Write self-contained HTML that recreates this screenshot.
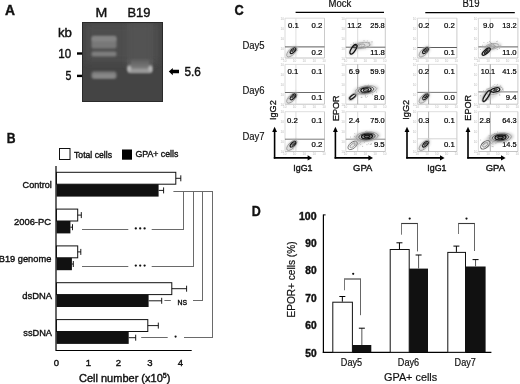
<!DOCTYPE html>
<html><head><meta charset="utf-8"><style>
html,body{margin:0;padding:0;background:#fff;width:520px;height:384px;overflow:hidden}
svg{display:block;will-change:transform;filter:blur(0.35px)}
text{font-family:"Liberation Sans", sans-serif;stroke:#111;stroke-width:0.4px}
text.t{stroke:none}
</style></head><body>
<svg width="520" height="384" viewBox="0 0 520 384">
<defs>
<clipPath id="gelclip"><rect x="82" y="22" width="81" height="80"/></clipPath>
<filter id="b1" x="-50%" y="-50%" width="200%" height="200%"><feGaussianBlur stdDeviation="0.9"/></filter>
<filter id="b2" x="-50%" y="-50%" width="200%" height="200%"><feGaussianBlur stdDeviation="1.6"/></filter>
<filter id="b3" x="-50%" y="-50%" width="200%" height="200%"><feGaussianBlur stdDeviation="3"/></filter>
</defs>
<rect width="520" height="384" fill="#fff"/>
<text x="5" y="15" font-size="14" text-anchor="start" font-weight="bold" textLength="10" lengthAdjust="spacingAndGlyphs" fill="#111" >A</text>
<text x="95.6" y="17" font-size="12.5" text-anchor="start" textLength="11.8" lengthAdjust="spacingAndGlyphs" fill="#111" >M</text>
<text x="127.5" y="17" font-size="12.5" text-anchor="start" textLength="23" lengthAdjust="spacingAndGlyphs" fill="#111" >B19</text>
<text x="58" y="37" font-size="12" text-anchor="start" textLength="14" lengthAdjust="spacingAndGlyphs" fill="#111" >kb</text>
<text x="58.2" y="58.2" font-size="12.5" text-anchor="start" textLength="12.9" lengthAdjust="spacingAndGlyphs" fill="#111" >10</text>
<text x="65.6" y="80.4" font-size="12.5" text-anchor="start" textLength="5.9" lengthAdjust="spacingAndGlyphs" fill="#111" >5</text>
<rect x="77" y="52.3" width="5.3" height="2.4" fill="#000" stroke="none" stroke-width="1" />
<rect x="77" y="74.7" width="5.3" height="2.4" fill="#000" stroke="none" stroke-width="1" />
<g clip-path="url(#gelclip)">
<rect x="82" y="22" width="81" height="80" fill="#444" stroke="none" stroke-width="1" />
<rect x="86" y="24" width="73" height="38" fill="#4e4e4e" filter="url(#b3)"/>
<rect x="91.5" y="36" width="25" height="12.5" rx="2" fill="#787878" filter="url(#b1)"/>
<rect x="92" y="36.5" width="24" height="5" rx="2" fill="#848484" filter="url(#b1)"/>
<rect x="91.5" y="51.6" width="25" height="5" rx="2" fill="#7e7e7e" filter="url(#b1)"/>
<rect x="91.5" y="71.5" width="25" height="7.3" rx="2.5" fill="#7c7c7c" filter="url(#b1)"/>
<rect x="93" y="74.5" width="22" height="3.2" rx="1.5" fill="#8a8a8a" filter="url(#b1)"/>
<rect x="128" y="22" width="24" height="44" fill="#535353" filter="url(#b3)"/>
<rect x="128.5" y="60" width="23" height="7" fill="#666" filter="url(#b2)"/>
<rect x="128.5" y="24" width="2" height="44" fill="#525252" filter="url(#b1)"/>
<rect x="149.5" y="24" width="2" height="44" fill="#525252" filter="url(#b1)"/>
<rect x="127.5" y="64.5" width="25" height="8.5" rx="3" fill="#767676" filter="url(#b1)"/>
<rect x="128" y="68.6" width="24" height="4.2" rx="2" fill="#9a9a9a" filter="url(#b1)"/>
<ellipse cx="129.3" cy="68.6" rx="1.9" ry="2.8" fill="#b8b8b8" filter="url(#b1)"/>
<ellipse cx="150.3" cy="68.6" rx="1.9" ry="2.8" fill="#b8b8b8" filter="url(#b1)"/>
</g>
<rect x="82.5" y="22.5" width="80" height="79" fill="none" stroke="#2a2a2a" stroke-width="1" />
<path d="M168.8 71.5 L172.8 67.9 L172.8 69.7 L179 69.7 L179 73.3 L172.8 73.3 L172.8 75.2 Z" fill="#000"/>
<text x="184.5" y="76" font-size="12" text-anchor="start" textLength="16.4" lengthAdjust="spacingAndGlyphs" fill="#111" >5.6</text>
<text x="6.8" y="143.4" font-size="14.5" text-anchor="start" font-weight="bold" textLength="8.8" lengthAdjust="spacingAndGlyphs" fill="#111" >B</text>
<rect x="59.5" y="148.5" width="10.5" height="11" fill="#fff" stroke="#111" stroke-width="1" />
<text x="74" y="157.5" font-size="9.5" text-anchor="start" textLength="38" lengthAdjust="spacingAndGlyphs" fill="#111" >Total cells</text>
<rect x="122" y="149.5" width="10" height="10.2" fill="#000" stroke="none" stroke-width="1" />
<text x="135.4" y="157.3" font-size="9.5" text-anchor="start" textLength="43" lengthAdjust="spacingAndGlyphs" fill="#111" >GPA+ cells</text>
<line x1="56" y1="166" x2="56" y2="351" stroke="#000" stroke-width="1.2" />
<line x1="56" y1="350.5" x2="191.7" y2="350.5" stroke="#000" stroke-width="1.2" />
<text x="56.3" y="365.5" font-size="9.5" text-anchor="middle" fill="#111" >0</text>
<text x="88.5" y="365.5" font-size="9.5" text-anchor="middle" fill="#111" >1</text>
<text x="118.5" y="365.5" font-size="9.5" text-anchor="middle" fill="#111" >2</text>
<text x="150" y="365.5" font-size="9.5" text-anchor="middle" fill="#111" >3</text>
<text x="180.4" y="365.5" font-size="9.5" text-anchor="middle" fill="#111" >4</text>
<text x="79" y="381.5" font-size="11" text-anchor="start" fill="#111" >Cell number (x10<tspan font-size="7" dy="-4">5</tspan><tspan dy="4">)</tspan></text>
<rect x="56.5" y="172.3" width="119.30000000000001" height="11.9" fill="#fff" stroke="#111" stroke-width="1" />
<rect x="56.5" y="184.20000000000002" width="102.1" height="12.4" fill="#111" stroke="none" stroke-width="1" />
<line x1="175.8" y1="178.3" x2="180.8" y2="178.3" stroke="#000" stroke-width="0.9" />
<line x1="180.8" y1="175.3" x2="180.8" y2="181.3" stroke="#000" stroke-width="0.9" />
<line x1="158.6" y1="190.4" x2="163.6" y2="190.4" stroke="#000" stroke-width="0.9" />
<line x1="163.6" y1="187.4" x2="163.6" y2="193.4" stroke="#000" stroke-width="0.9" />
<text x="22.6" y="188.20000000000002" font-size="9.8" text-anchor="start" textLength="29.2" lengthAdjust="spacingAndGlyphs" fill="#111" >Control</text>
<rect x="56.5" y="209.1" width="21.200000000000003" height="11.9" fill="#fff" stroke="#111" stroke-width="1" />
<rect x="56.5" y="221.0" width="13.900000000000006" height="12.4" fill="#111" stroke="none" stroke-width="1" />
<line x1="77.7" y1="215.1" x2="81.3" y2="215.1" stroke="#000" stroke-width="0.9" />
<line x1="81.3" y1="212.1" x2="81.3" y2="218.1" stroke="#000" stroke-width="0.9" />
<line x1="70.4" y1="227.2" x2="72.5" y2="227.2" stroke="#000" stroke-width="0.9" />
<line x1="72.5" y1="224.2" x2="72.5" y2="230.2" stroke="#000" stroke-width="0.9" />
<text x="14" y="225.0" font-size="9.8" text-anchor="start" textLength="37" lengthAdjust="spacingAndGlyphs" fill="#111" >2006-PC</text>
<rect x="56.5" y="245.9" width="21.200000000000003" height="11.9" fill="#fff" stroke="#111" stroke-width="1" />
<rect x="56.5" y="257.8" width="15.400000000000006" height="12.4" fill="#111" stroke="none" stroke-width="1" />
<line x1="77.7" y1="251.9" x2="80.8" y2="251.9" stroke="#000" stroke-width="0.9" />
<line x1="80.8" y1="248.9" x2="80.8" y2="254.9" stroke="#000" stroke-width="0.9" />
<line x1="71.9" y1="264.0" x2="73.3" y2="264.0" stroke="#000" stroke-width="0.9" />
<line x1="73.3" y1="261.0" x2="73.3" y2="267.0" stroke="#000" stroke-width="0.9" />
<text x="-1.3" y="261.8" font-size="9.8" text-anchor="start" textLength="52.6" lengthAdjust="spacingAndGlyphs" fill="#111" >B19 genome</text>
<rect x="56.5" y="282.7" width="115.30000000000001" height="11.9" fill="#fff" stroke="#111" stroke-width="1" />
<rect x="56.5" y="294.59999999999997" width="92.1" height="12.4" fill="#111" stroke="none" stroke-width="1" />
<line x1="171.8" y1="288.7" x2="186.6" y2="288.7" stroke="#000" stroke-width="0.9" />
<line x1="186.6" y1="285.7" x2="186.6" y2="291.7" stroke="#000" stroke-width="0.9" />
<line x1="148.6" y1="300.8" x2="161.7" y2="300.8" stroke="#000" stroke-width="0.9" />
<line x1="161.7" y1="297.8" x2="161.7" y2="303.8" stroke="#000" stroke-width="0.9" />
<text x="22.3" y="298.59999999999997" font-size="9.8" text-anchor="start" textLength="29.7" lengthAdjust="spacingAndGlyphs" fill="#111" >dsDNA</text>
<rect x="56.5" y="319.6" width="91.30000000000001" height="11.9" fill="#fff" stroke="#111" stroke-width="1" />
<rect x="56.5" y="331.5" width="72.19999999999999" height="12.4" fill="#111" stroke="none" stroke-width="1" />
<line x1="147.8" y1="325.6" x2="158.3" y2="325.6" stroke="#000" stroke-width="0.9" />
<line x1="158.3" y1="322.6" x2="158.3" y2="328.6" stroke="#000" stroke-width="0.9" />
<line x1="128.7" y1="337.70000000000005" x2="135.7" y2="337.70000000000005" stroke="#000" stroke-width="0.9" />
<line x1="135.7" y1="334.70000000000005" x2="135.7" y2="340.70000000000005" stroke="#000" stroke-width="0.9" />
<text x="23.3" y="335.5" font-size="9.8" text-anchor="start" textLength="28.7" lengthAdjust="spacingAndGlyphs" fill="#111" >ssDNA</text>
<line x1="173.4" y1="191.5" x2="213" y2="191.5" stroke="#6a6a6a" stroke-width="1" />
<line x1="183.5" y1="191.5" x2="183.5" y2="230" stroke="#6a6a6a" stroke-width="1" />
<line x1="193.5" y1="191.5" x2="193.5" y2="267" stroke="#6a6a6a" stroke-width="1" />
<line x1="202.5" y1="191.5" x2="202.5" y2="301" stroke="#6a6a6a" stroke-width="1" />
<line x1="212.5" y1="191.5" x2="212.5" y2="338" stroke="#6a6a6a" stroke-width="1" />
<line x1="82" y1="229.5" x2="128.3" y2="229.5" stroke="#6a6a6a" stroke-width="1" />
<line x1="151.7" y1="229.5" x2="184" y2="229.5" stroke="#6a6a6a" stroke-width="1" />
<circle cx="135.8" cy="228.4" r="1.15" fill="#111"/>
<circle cx="140.2" cy="228.4" r="1.15" fill="#111"/>
<circle cx="144.6" cy="228.4" r="1.15" fill="#111"/>
<line x1="82" y1="266.5" x2="128.3" y2="266.5" stroke="#6a6a6a" stroke-width="1" />
<line x1="151.7" y1="266.5" x2="194" y2="266.5" stroke="#6a6a6a" stroke-width="1" />
<circle cx="135.8" cy="265.6" r="1.15" fill="#111"/>
<circle cx="140.2" cy="265.6" r="1.15" fill="#111"/>
<circle cx="144.6" cy="265.6" r="1.15" fill="#111"/>
<line x1="164.4" y1="300.5" x2="170.8" y2="300.5" stroke="#6a6a6a" stroke-width="1" />
<line x1="193" y1="300.5" x2="203" y2="300.5" stroke="#6a6a6a" stroke-width="1" />
<text x="177.5" y="305.2" font-size="7.5" text-anchor="start" textLength="9.5" lengthAdjust="spacingAndGlyphs" fill="#111" >NS</text>
<line x1="141.2" y1="337.5" x2="167.7" y2="337.5" stroke="#6a6a6a" stroke-width="1" />
<line x1="184" y1="337.5" x2="213" y2="337.5" stroke="#6a6a6a" stroke-width="1" />
<circle cx="175.6" cy="336.6" r="1.1" fill="#111"/>
<text x="234.5" y="14.8" font-size="14" text-anchor="start" font-weight="bold" textLength="9.2" lengthAdjust="spacingAndGlyphs" fill="#111" >C</text>
<text x="328.6" y="6.9" font-size="10" text-anchor="start" textLength="22.8" lengthAdjust="spacingAndGlyphs" fill="#111" style="stroke-width:0.2px">Mock</text>
<line x1="295.6" y1="12.4" x2="384" y2="12.4" stroke="#000" stroke-width="1.25" />
<text x="462.5" y="6.9" font-size="10" text-anchor="start" textLength="17" lengthAdjust="spacingAndGlyphs" fill="#111" style="stroke-width:0.2px">B19</text>
<line x1="425.3" y1="12.5" x2="514.8" y2="12.5" stroke="#000" stroke-width="1.25" />
<text x="242.4" y="48.75" font-size="10" text-anchor="start" textLength="22.2" lengthAdjust="spacingAndGlyphs" fill="#111" style="stroke-width:0.15px">Day5</text>
<text x="242.4" y="94.0" font-size="10" text-anchor="start" textLength="22.2" lengthAdjust="spacingAndGlyphs" fill="#111" style="stroke-width:0.15px">Day6</text>
<text x="242.4" y="139.7" font-size="10" text-anchor="start" textLength="22.2" lengthAdjust="spacingAndGlyphs" fill="#111" style="stroke-width:0.15px">Day7</text>
<text x="280.4" y="59.5" font-size="3.2" fill="#bbb" class="t">10</text>
<text x="283.0" y="61.8" font-size="3.2" fill="#bbb" class="t">10</text>
<text x="280.4" y="49.5" font-size="3.2" fill="#bbb" class="t">10</text>
<text x="292.8" y="61.8" font-size="3.2" fill="#bbb" class="t">10</text>
<text x="280.4" y="39.5" font-size="3.2" fill="#bbb" class="t">10</text>
<text x="302.6" y="61.8" font-size="3.2" fill="#bbb" class="t">10</text>
<text x="280.4" y="29.5" font-size="3.2" fill="#bbb" class="t">10</text>
<text x="312.4" y="61.8" font-size="3.2" fill="#bbb" class="t">10</text>
<text x="280.4" y="19.5" font-size="3.2" fill="#bbb" class="t">10</text>
<text x="322.2" y="61.8" font-size="3.2" fill="#bbb" class="t">10</text>
<line x1="285.0" y1="18.2" x2="324.5" y2="18.2" stroke="#d4d4d4" stroke-width="0.8" />
<line x1="285.0" y1="18.2" x2="285.0" y2="58.0" stroke="#d0d0d0" stroke-width="0.8" />
<line x1="324.5" y1="18.2" x2="324.5" y2="58.0" stroke="#bdbdbd" stroke-width="0.8" />
<line x1="285.0" y1="58.0" x2="324.5" y2="58.0" stroke="#b5b5b5" stroke-width="0.8" />
<line x1="295.9" y1="18.2" x2="295.9" y2="58.0" stroke="#d8d8d8" stroke-width="0.8" />
<line x1="285.0" y1="46.9" x2="324.5" y2="46.9" stroke="#4a4a4a" stroke-width="0.9" />
<text x="288" y="28" font-size="8" text-anchor="start" textLength="10.8" lengthAdjust="spacingAndGlyphs" fill="#000" style="stroke-width:0.22px;stroke:#000">0.1</text>
<text x="322.4" y="28" font-size="8" text-anchor="end" textLength="10.8" lengthAdjust="spacingAndGlyphs" fill="#000" style="stroke-width:0.22px;stroke:#000">0.2</text>
<text x="322.4" y="54.6" font-size="8" text-anchor="end" textLength="10.8" lengthAdjust="spacingAndGlyphs" fill="#000" style="stroke-width:0.22px;stroke:#000">0.2</text>
<ellipse cx="291.8" cy="51.8" rx="8" ry="4" transform="rotate(-45 291.8 51.8)" fill="#c4c4c4" stroke="none" stroke-width="1" opacity="0.6" filter="url(#b1)"/>
<ellipse cx="291.8" cy="51.8" rx="6.6" ry="3" transform="rotate(-45 291.8 51.8)" fill="none" stroke="#8a8a8a" stroke-width="0.7" opacity="1"/>
<ellipse cx="293.0" cy="50.699999999999996" rx="3.6" ry="1.7" transform="rotate(-45 293.0 50.699999999999996)" fill="none" stroke="#1a1a1a" stroke-width="1.2" opacity="1"/>
<ellipse cx="293.2" cy="50.5" rx="1.8" ry="0.6" transform="rotate(-45 293.2 50.5)" fill="none" stroke="#111" stroke-width="0.9" opacity="1"/>
<text x="341.2" y="59.5" font-size="3.2" fill="#bbb" class="t">10</text>
<text x="343.8" y="61.8" font-size="3.2" fill="#bbb" class="t">10</text>
<text x="341.2" y="49.5" font-size="3.2" fill="#bbb" class="t">10</text>
<text x="353.6" y="61.8" font-size="3.2" fill="#bbb" class="t">10</text>
<text x="341.2" y="39.5" font-size="3.2" fill="#bbb" class="t">10</text>
<text x="363.40000000000003" y="61.8" font-size="3.2" fill="#bbb" class="t">10</text>
<text x="341.2" y="29.5" font-size="3.2" fill="#bbb" class="t">10</text>
<text x="373.2" y="61.8" font-size="3.2" fill="#bbb" class="t">10</text>
<text x="341.2" y="19.5" font-size="3.2" fill="#bbb" class="t">10</text>
<text x="383.0" y="61.8" font-size="3.2" fill="#bbb" class="t">10</text>
<line x1="345.8" y1="18.2" x2="385.3" y2="18.2" stroke="#d4d4d4" stroke-width="0.8" />
<line x1="345.8" y1="18.2" x2="345.8" y2="58.0" stroke="#d0d0d0" stroke-width="0.8" />
<line x1="385.3" y1="18.2" x2="385.3" y2="58.0" stroke="#bdbdbd" stroke-width="0.8" />
<line x1="345.8" y1="58.0" x2="385.3" y2="58.0" stroke="#b5b5b5" stroke-width="0.8" />
<line x1="357.7" y1="18.2" x2="357.7" y2="58.0" stroke="#d0d0d0" stroke-width="0.8" />
<line x1="345.8" y1="47.2" x2="385.3" y2="47.2" stroke="#555" stroke-width="0.9" />
<text x="347.2" y="28" font-size="8" text-anchor="start" textLength="14.4" lengthAdjust="spacingAndGlyphs" fill="#000" style="stroke-width:0.22px;stroke:#000">11.2</text>
<text x="384.7" y="28" font-size="8" text-anchor="end" textLength="14.4" lengthAdjust="spacingAndGlyphs" fill="#000" style="stroke-width:0.22px;stroke:#000">25.8</text>
<text x="384.7" y="54.6" font-size="8" text-anchor="end" textLength="14.4" lengthAdjust="spacingAndGlyphs" fill="#000" style="stroke-width:0.22px;stroke:#000">11.8</text>
<text x="412.79999999999995" y="59.5" font-size="3.2" fill="#bbb" class="t">10</text>
<text x="415.4" y="61.8" font-size="3.2" fill="#bbb" class="t">10</text>
<text x="412.79999999999995" y="49.5" font-size="3.2" fill="#bbb" class="t">10</text>
<text x="425.2" y="61.8" font-size="3.2" fill="#bbb" class="t">10</text>
<text x="412.79999999999995" y="39.5" font-size="3.2" fill="#bbb" class="t">10</text>
<text x="435.0" y="61.8" font-size="3.2" fill="#bbb" class="t">10</text>
<text x="412.79999999999995" y="29.5" font-size="3.2" fill="#bbb" class="t">10</text>
<text x="444.79999999999995" y="61.8" font-size="3.2" fill="#bbb" class="t">10</text>
<text x="412.79999999999995" y="19.5" font-size="3.2" fill="#bbb" class="t">10</text>
<text x="454.59999999999997" y="61.8" font-size="3.2" fill="#bbb" class="t">10</text>
<line x1="417.4" y1="18.2" x2="456.9" y2="18.2" stroke="#d4d4d4" stroke-width="0.8" />
<line x1="417.4" y1="18.2" x2="417.4" y2="58.0" stroke="#d0d0d0" stroke-width="0.8" />
<line x1="456.9" y1="18.2" x2="456.9" y2="58.0" stroke="#bdbdbd" stroke-width="0.8" />
<line x1="417.4" y1="58.0" x2="456.9" y2="58.0" stroke="#b5b5b5" stroke-width="0.8" />
<line x1="428.59999999999997" y1="18.2" x2="428.59999999999997" y2="58.0" stroke="#d0d0d0" stroke-width="0.8" />
<line x1="417.4" y1="47.5" x2="456.9" y2="47.5" stroke="#4a4a4a" stroke-width="0.9" />
<text x="418.6" y="28" font-size="8" text-anchor="start" textLength="10.8" lengthAdjust="spacingAndGlyphs" fill="#000" style="stroke-width:0.22px;stroke:#000">0.2</text>
<text x="454.8" y="28" font-size="8" text-anchor="end" textLength="10.8" lengthAdjust="spacingAndGlyphs" fill="#000" style="stroke-width:0.22px;stroke:#000">0.2</text>
<text x="454.8" y="54.6" font-size="8" text-anchor="end" textLength="10.8" lengthAdjust="spacingAndGlyphs" fill="#000" style="stroke-width:0.22px;stroke:#000">0.1</text>
<ellipse cx="424.2" cy="51.8" rx="8" ry="4" transform="rotate(-45 424.2 51.8)" fill="#c4c4c4" stroke="none" stroke-width="1" opacity="0.6" filter="url(#b1)"/>
<ellipse cx="424.2" cy="51.8" rx="6.6" ry="3" transform="rotate(-45 424.2 51.8)" fill="none" stroke="#8a8a8a" stroke-width="0.7" opacity="1"/>
<ellipse cx="425.4" cy="50.699999999999996" rx="3.6" ry="1.7" transform="rotate(-45 425.4 50.699999999999996)" fill="none" stroke="#1a1a1a" stroke-width="1.2" opacity="1"/>
<ellipse cx="425.59999999999997" cy="50.5" rx="1.8" ry="0.6" transform="rotate(-45 425.59999999999997 50.5)" fill="none" stroke="#111" stroke-width="0.9" opacity="1"/>
<text x="473.79999999999995" y="59.5" font-size="3.2" fill="#bbb" class="t">10</text>
<text x="476.4" y="61.8" font-size="3.2" fill="#bbb" class="t">10</text>
<text x="473.79999999999995" y="49.5" font-size="3.2" fill="#bbb" class="t">10</text>
<text x="486.2" y="61.8" font-size="3.2" fill="#bbb" class="t">10</text>
<text x="473.79999999999995" y="39.5" font-size="3.2" fill="#bbb" class="t">10</text>
<text x="496.0" y="61.8" font-size="3.2" fill="#bbb" class="t">10</text>
<text x="473.79999999999995" y="29.5" font-size="3.2" fill="#bbb" class="t">10</text>
<text x="505.79999999999995" y="61.8" font-size="3.2" fill="#bbb" class="t">10</text>
<text x="473.79999999999995" y="19.5" font-size="3.2" fill="#bbb" class="t">10</text>
<text x="515.6" y="61.8" font-size="3.2" fill="#bbb" class="t">10</text>
<line x1="478.4" y1="18.2" x2="517.9" y2="18.2" stroke="#d4d4d4" stroke-width="0.8" />
<line x1="478.4" y1="18.2" x2="478.4" y2="58.0" stroke="#d0d0d0" stroke-width="0.8" />
<line x1="517.9" y1="18.2" x2="517.9" y2="58.0" stroke="#bdbdbd" stroke-width="0.8" />
<line x1="478.4" y1="58.0" x2="517.9" y2="58.0" stroke="#b5b5b5" stroke-width="0.8" />
<line x1="490.29999999999995" y1="18.2" x2="490.29999999999995" y2="58.0" stroke="#cfcfcf" stroke-width="0.8" />
<line x1="478.4" y1="46.9" x2="517.9" y2="46.9" stroke="#505050" stroke-width="0.9" />
<text x="482.9" y="28" font-size="8" text-anchor="start" textLength="10.8" lengthAdjust="spacingAndGlyphs" fill="#000" style="stroke-width:0.22px;stroke:#000">9.0</text>
<text x="516.6" y="28" font-size="8" text-anchor="end" textLength="14.4" lengthAdjust="spacingAndGlyphs" fill="#000" style="stroke-width:0.22px;stroke:#000">13.2</text>
<text x="516.6" y="54.6" font-size="8" text-anchor="end" textLength="14.4" lengthAdjust="spacingAndGlyphs" fill="#000" style="stroke-width:0.22px;stroke:#000">11.0</text>
<text x="280.4" y="105.7" font-size="3.2" fill="#bbb" class="t">10</text>
<text x="283.0" y="108.0" font-size="3.2" fill="#bbb" class="t">10</text>
<text x="280.4" y="95.7" font-size="3.2" fill="#bbb" class="t">10</text>
<text x="292.8" y="108.0" font-size="3.2" fill="#bbb" class="t">10</text>
<text x="280.4" y="85.7" font-size="3.2" fill="#bbb" class="t">10</text>
<text x="302.6" y="108.0" font-size="3.2" fill="#bbb" class="t">10</text>
<text x="280.4" y="75.7" font-size="3.2" fill="#bbb" class="t">10</text>
<text x="312.4" y="108.0" font-size="3.2" fill="#bbb" class="t">10</text>
<text x="280.4" y="65.7" font-size="3.2" fill="#bbb" class="t">10</text>
<text x="322.2" y="108.0" font-size="3.2" fill="#bbb" class="t">10</text>
<line x1="285.0" y1="64.4" x2="324.5" y2="64.4" stroke="#d4d4d4" stroke-width="0.8" />
<line x1="285.0" y1="64.4" x2="285.0" y2="104.2" stroke="#d0d0d0" stroke-width="0.8" />
<line x1="324.5" y1="64.4" x2="324.5" y2="104.2" stroke="#bdbdbd" stroke-width="0.8" />
<line x1="285.0" y1="104.2" x2="324.5" y2="104.2" stroke="#b5b5b5" stroke-width="0.8" />
<line x1="295.9" y1="64.4" x2="295.9" y2="104.2" stroke="#d4d4d4" stroke-width="0.8" />
<line x1="285.0" y1="92.5" x2="324.5" y2="92.5" stroke="#5a5a5a" stroke-width="0.9" />
<text x="287.5" y="73.8" font-size="8" text-anchor="start" textLength="10.8" lengthAdjust="spacingAndGlyphs" fill="#000" style="stroke-width:0.22px;stroke:#000">0.1</text>
<text x="322.4" y="73.8" font-size="8" text-anchor="end" textLength="10.8" lengthAdjust="spacingAndGlyphs" fill="#000" style="stroke-width:0.22px;stroke:#000">0.1</text>
<text x="322.4" y="100" font-size="8" text-anchor="end" textLength="10.8" lengthAdjust="spacingAndGlyphs" fill="#000" style="stroke-width:0.22px;stroke:#000">0.1</text>
<ellipse cx="291.8" cy="98.0" rx="8" ry="4" transform="rotate(-45 291.8 98.0)" fill="#c4c4c4" stroke="none" stroke-width="1" opacity="0.6" filter="url(#b1)"/>
<ellipse cx="291.8" cy="98.0" rx="6.6" ry="3" transform="rotate(-45 291.8 98.0)" fill="none" stroke="#8a8a8a" stroke-width="0.7" opacity="1"/>
<ellipse cx="293.0" cy="96.9" rx="3.6" ry="1.7" transform="rotate(-45 293.0 96.9)" fill="none" stroke="#1a1a1a" stroke-width="1.2" opacity="1"/>
<ellipse cx="293.2" cy="96.7" rx="1.8" ry="0.6" transform="rotate(-45 293.2 96.7)" fill="none" stroke="#111" stroke-width="0.9" opacity="1"/>
<text x="341.2" y="105.7" font-size="3.2" fill="#bbb" class="t">10</text>
<text x="343.8" y="108.0" font-size="3.2" fill="#bbb" class="t">10</text>
<text x="341.2" y="95.7" font-size="3.2" fill="#bbb" class="t">10</text>
<text x="353.6" y="108.0" font-size="3.2" fill="#bbb" class="t">10</text>
<text x="341.2" y="85.7" font-size="3.2" fill="#bbb" class="t">10</text>
<text x="363.40000000000003" y="108.0" font-size="3.2" fill="#bbb" class="t">10</text>
<text x="341.2" y="75.7" font-size="3.2" fill="#bbb" class="t">10</text>
<text x="373.2" y="108.0" font-size="3.2" fill="#bbb" class="t">10</text>
<text x="341.2" y="65.7" font-size="3.2" fill="#bbb" class="t">10</text>
<text x="383.0" y="108.0" font-size="3.2" fill="#bbb" class="t">10</text>
<line x1="345.8" y1="64.4" x2="385.3" y2="64.4" stroke="#d4d4d4" stroke-width="0.8" />
<line x1="345.8" y1="64.4" x2="345.8" y2="104.2" stroke="#d0d0d0" stroke-width="0.8" />
<line x1="385.3" y1="64.4" x2="385.3" y2="104.2" stroke="#bdbdbd" stroke-width="0.8" />
<line x1="345.8" y1="104.2" x2="385.3" y2="104.2" stroke="#b5b5b5" stroke-width="0.8" />
<line x1="357.7" y1="64.4" x2="357.7" y2="104.2" stroke="#999" stroke-width="0.8" />
<text x="348.8" y="73.8" font-size="8" text-anchor="start" textLength="10.8" lengthAdjust="spacingAndGlyphs" fill="#000" style="stroke-width:0.22px;stroke:#000">6.9</text>
<text x="384.7" y="73.8" font-size="8" text-anchor="end" textLength="14.4" lengthAdjust="spacingAndGlyphs" fill="#000" style="stroke-width:0.22px;stroke:#000">59.9</text>
<text x="384.7" y="100" font-size="8" text-anchor="end" textLength="10.8" lengthAdjust="spacingAndGlyphs" fill="#000" style="stroke-width:0.22px;stroke:#000">8.0</text>
<text x="412.79999999999995" y="105.7" font-size="3.2" fill="#bbb" class="t">10</text>
<text x="415.4" y="108.0" font-size="3.2" fill="#bbb" class="t">10</text>
<text x="412.79999999999995" y="95.7" font-size="3.2" fill="#bbb" class="t">10</text>
<text x="425.2" y="108.0" font-size="3.2" fill="#bbb" class="t">10</text>
<text x="412.79999999999995" y="85.7" font-size="3.2" fill="#bbb" class="t">10</text>
<text x="435.0" y="108.0" font-size="3.2" fill="#bbb" class="t">10</text>
<text x="412.79999999999995" y="75.7" font-size="3.2" fill="#bbb" class="t">10</text>
<text x="444.79999999999995" y="108.0" font-size="3.2" fill="#bbb" class="t">10</text>
<text x="412.79999999999995" y="65.7" font-size="3.2" fill="#bbb" class="t">10</text>
<text x="454.59999999999997" y="108.0" font-size="3.2" fill="#bbb" class="t">10</text>
<line x1="417.4" y1="64.4" x2="456.9" y2="64.4" stroke="#d4d4d4" stroke-width="0.8" />
<line x1="417.4" y1="64.4" x2="417.4" y2="104.2" stroke="#d0d0d0" stroke-width="0.8" />
<line x1="456.9" y1="64.4" x2="456.9" y2="104.2" stroke="#bdbdbd" stroke-width="0.8" />
<line x1="417.4" y1="104.2" x2="456.9" y2="104.2" stroke="#b5b5b5" stroke-width="0.8" />
<line x1="428.59999999999997" y1="64.4" x2="428.59999999999997" y2="104.2" stroke="#8a8a8a" stroke-width="0.8" />
<line x1="417.4" y1="92.4" x2="456.9" y2="92.4" stroke="#6a6a6a" stroke-width="0.9" />
<text x="418.4" y="73.8" font-size="8" text-anchor="start" textLength="10.8" lengthAdjust="spacingAndGlyphs" fill="#000" style="stroke-width:0.22px;stroke:#000">0.2</text>
<text x="454.8" y="73.8" font-size="8" text-anchor="end" textLength="10.8" lengthAdjust="spacingAndGlyphs" fill="#000" style="stroke-width:0.22px;stroke:#000">0.1</text>
<text x="454.8" y="100" font-size="8" text-anchor="end" textLength="10.8" lengthAdjust="spacingAndGlyphs" fill="#000" style="stroke-width:0.22px;stroke:#000">0.0</text>
<ellipse cx="424.2" cy="98.0" rx="8" ry="4" transform="rotate(-45 424.2 98.0)" fill="#c4c4c4" stroke="none" stroke-width="1" opacity="0.6" filter="url(#b1)"/>
<ellipse cx="424.2" cy="98.0" rx="6.6" ry="3" transform="rotate(-45 424.2 98.0)" fill="none" stroke="#8a8a8a" stroke-width="0.7" opacity="1"/>
<ellipse cx="425.4" cy="96.9" rx="3.6" ry="1.7" transform="rotate(-45 425.4 96.9)" fill="none" stroke="#1a1a1a" stroke-width="1.2" opacity="1"/>
<ellipse cx="425.59999999999997" cy="96.7" rx="1.8" ry="0.6" transform="rotate(-45 425.59999999999997 96.7)" fill="none" stroke="#111" stroke-width="0.9" opacity="1"/>
<text x="473.79999999999995" y="105.7" font-size="3.2" fill="#bbb" class="t">10</text>
<text x="476.4" y="108.0" font-size="3.2" fill="#bbb" class="t">10</text>
<text x="473.79999999999995" y="95.7" font-size="3.2" fill="#bbb" class="t">10</text>
<text x="486.2" y="108.0" font-size="3.2" fill="#bbb" class="t">10</text>
<text x="473.79999999999995" y="85.7" font-size="3.2" fill="#bbb" class="t">10</text>
<text x="496.0" y="108.0" font-size="3.2" fill="#bbb" class="t">10</text>
<text x="473.79999999999995" y="75.7" font-size="3.2" fill="#bbb" class="t">10</text>
<text x="505.79999999999995" y="108.0" font-size="3.2" fill="#bbb" class="t">10</text>
<text x="473.79999999999995" y="65.7" font-size="3.2" fill="#bbb" class="t">10</text>
<text x="515.6" y="108.0" font-size="3.2" fill="#bbb" class="t">10</text>
<line x1="478.4" y1="64.4" x2="517.9" y2="64.4" stroke="#d4d4d4" stroke-width="0.8" />
<line x1="478.4" y1="64.4" x2="478.4" y2="104.2" stroke="#d0d0d0" stroke-width="0.8" />
<line x1="517.9" y1="64.4" x2="517.9" y2="104.2" stroke="#bdbdbd" stroke-width="0.8" />
<line x1="478.4" y1="104.2" x2="517.9" y2="104.2" stroke="#b5b5b5" stroke-width="0.8" />
<line x1="490.29999999999995" y1="64.4" x2="490.29999999999995" y2="104.2" stroke="#8a8a8a" stroke-width="0.8" />
<line x1="478.4" y1="91.9" x2="517.9" y2="91.9" stroke="#6a6a6a" stroke-width="0.9" />
<text x="480.8" y="73.8" font-size="8" text-anchor="start" textLength="14.4" lengthAdjust="spacingAndGlyphs" fill="#000" style="stroke-width:0.22px;stroke:#000">10.1</text>
<text x="516.6" y="73.8" font-size="8" text-anchor="end" textLength="14.4" lengthAdjust="spacingAndGlyphs" fill="#000" style="stroke-width:0.22px;stroke:#000">41.5</text>
<text x="516.6" y="100" font-size="8" text-anchor="end" textLength="10.8" lengthAdjust="spacingAndGlyphs" fill="#000" style="stroke-width:0.22px;stroke:#000">9.4</text>
<text x="280.4" y="153.0" font-size="3.2" fill="#bbb" class="t">10</text>
<text x="283.0" y="155.3" font-size="3.2" fill="#bbb" class="t">10</text>
<text x="280.4" y="143.0" font-size="3.2" fill="#bbb" class="t">10</text>
<text x="292.8" y="155.3" font-size="3.2" fill="#bbb" class="t">10</text>
<text x="280.4" y="133.0" font-size="3.2" fill="#bbb" class="t">10</text>
<text x="302.6" y="155.3" font-size="3.2" fill="#bbb" class="t">10</text>
<text x="280.4" y="123.0" font-size="3.2" fill="#bbb" class="t">10</text>
<text x="312.4" y="155.3" font-size="3.2" fill="#bbb" class="t">10</text>
<text x="280.4" y="113.0" font-size="3.2" fill="#bbb" class="t">10</text>
<text x="322.2" y="155.3" font-size="3.2" fill="#bbb" class="t">10</text>
<line x1="285.0" y1="111.7" x2="324.5" y2="111.7" stroke="#d4d4d4" stroke-width="0.8" />
<line x1="285.0" y1="111.7" x2="285.0" y2="151.5" stroke="#d0d0d0" stroke-width="0.8" />
<line x1="324.5" y1="111.7" x2="324.5" y2="151.5" stroke="#bdbdbd" stroke-width="0.8" />
<line x1="285.0" y1="151.5" x2="324.5" y2="151.5" stroke="#b5b5b5" stroke-width="0.8" />
<line x1="295.9" y1="111.7" x2="295.9" y2="151.5" stroke="#d4d4d4" stroke-width="0.8" />
<line x1="285.0" y1="139.2" x2="324.5" y2="139.2" stroke="#6a6a6a" stroke-width="0.9" />
<text x="287" y="122.5" font-size="8" text-anchor="start" textLength="10.8" lengthAdjust="spacingAndGlyphs" fill="#000" style="stroke-width:0.22px;stroke:#000">0.2</text>
<text x="322.4" y="122.5" font-size="8" text-anchor="end" textLength="10.8" lengthAdjust="spacingAndGlyphs" fill="#000" style="stroke-width:0.22px;stroke:#000">0.1</text>
<text x="322.4" y="146.8" font-size="8" text-anchor="end" textLength="10.8" lengthAdjust="spacingAndGlyphs" fill="#000" style="stroke-width:0.22px;stroke:#000">0.2</text>
<ellipse cx="291.8" cy="145.3" rx="8" ry="4" transform="rotate(-45 291.8 145.3)" fill="#c4c4c4" stroke="none" stroke-width="1" opacity="0.6" filter="url(#b1)"/>
<ellipse cx="291.8" cy="145.3" rx="6.6" ry="3" transform="rotate(-45 291.8 145.3)" fill="none" stroke="#8a8a8a" stroke-width="0.7" opacity="1"/>
<ellipse cx="293.0" cy="144.20000000000002" rx="3.6" ry="1.7" transform="rotate(-45 293.0 144.20000000000002)" fill="none" stroke="#1a1a1a" stroke-width="1.2" opacity="1"/>
<ellipse cx="293.2" cy="144.0" rx="1.8" ry="0.6" transform="rotate(-45 293.2 144.0)" fill="none" stroke="#111" stroke-width="0.9" opacity="1"/>
<text x="341.2" y="153.0" font-size="3.2" fill="#bbb" class="t">10</text>
<text x="343.8" y="155.3" font-size="3.2" fill="#bbb" class="t">10</text>
<text x="341.2" y="143.0" font-size="3.2" fill="#bbb" class="t">10</text>
<text x="353.6" y="155.3" font-size="3.2" fill="#bbb" class="t">10</text>
<text x="341.2" y="133.0" font-size="3.2" fill="#bbb" class="t">10</text>
<text x="363.40000000000003" y="155.3" font-size="3.2" fill="#bbb" class="t">10</text>
<text x="341.2" y="123.0" font-size="3.2" fill="#bbb" class="t">10</text>
<text x="373.2" y="155.3" font-size="3.2" fill="#bbb" class="t">10</text>
<text x="341.2" y="113.0" font-size="3.2" fill="#bbb" class="t">10</text>
<text x="383.0" y="155.3" font-size="3.2" fill="#bbb" class="t">10</text>
<line x1="345.8" y1="111.7" x2="385.3" y2="111.7" stroke="#d4d4d4" stroke-width="0.8" />
<line x1="345.8" y1="111.7" x2="345.8" y2="151.5" stroke="#d0d0d0" stroke-width="0.8" />
<line x1="385.3" y1="111.7" x2="385.3" y2="151.5" stroke="#bdbdbd" stroke-width="0.8" />
<line x1="345.8" y1="151.5" x2="385.3" y2="151.5" stroke="#b5b5b5" stroke-width="0.8" />
<line x1="357.7" y1="111.7" x2="357.7" y2="151.5" stroke="#d0d0d0" stroke-width="0.8" />
<line x1="345.8" y1="139.2" x2="385.3" y2="139.2" stroke="#7a7a7a" stroke-width="0.9" />
<text x="348.7" y="122.5" font-size="8" text-anchor="start" textLength="10.8" lengthAdjust="spacingAndGlyphs" fill="#000" style="stroke-width:0.22px;stroke:#000">2.4</text>
<text x="384.7" y="122.5" font-size="8" text-anchor="end" textLength="14.4" lengthAdjust="spacingAndGlyphs" fill="#000" style="stroke-width:0.22px;stroke:#000">75.0</text>
<text x="384.7" y="146.8" font-size="8" text-anchor="end" textLength="10.8" lengthAdjust="spacingAndGlyphs" fill="#000" style="stroke-width:0.22px;stroke:#000">9.5</text>
<text x="412.79999999999995" y="153.0" font-size="3.2" fill="#bbb" class="t">10</text>
<text x="415.4" y="155.3" font-size="3.2" fill="#bbb" class="t">10</text>
<text x="412.79999999999995" y="143.0" font-size="3.2" fill="#bbb" class="t">10</text>
<text x="425.2" y="155.3" font-size="3.2" fill="#bbb" class="t">10</text>
<text x="412.79999999999995" y="133.0" font-size="3.2" fill="#bbb" class="t">10</text>
<text x="435.0" y="155.3" font-size="3.2" fill="#bbb" class="t">10</text>
<text x="412.79999999999995" y="123.0" font-size="3.2" fill="#bbb" class="t">10</text>
<text x="444.79999999999995" y="155.3" font-size="3.2" fill="#bbb" class="t">10</text>
<text x="412.79999999999995" y="113.0" font-size="3.2" fill="#bbb" class="t">10</text>
<text x="454.59999999999997" y="155.3" font-size="3.2" fill="#bbb" class="t">10</text>
<line x1="417.4" y1="111.7" x2="456.9" y2="111.7" stroke="#d4d4d4" stroke-width="0.8" />
<line x1="417.4" y1="111.7" x2="417.4" y2="151.5" stroke="#d0d0d0" stroke-width="0.8" />
<line x1="456.9" y1="111.7" x2="456.9" y2="151.5" stroke="#bdbdbd" stroke-width="0.8" />
<line x1="417.4" y1="151.5" x2="456.9" y2="151.5" stroke="#b5b5b5" stroke-width="0.8" />
<line x1="428.59999999999997" y1="111.7" x2="428.59999999999997" y2="151.5" stroke="#a0a0a0" stroke-width="0.8" />
<line x1="417.4" y1="138.8" x2="456.9" y2="138.8" stroke="#d0d0d0" stroke-width="0.9" />
<text x="418.5" y="122.5" font-size="8" text-anchor="start" textLength="10.8" lengthAdjust="spacingAndGlyphs" fill="#000" style="stroke-width:0.22px;stroke:#000">0.3</text>
<text x="454.8" y="122.5" font-size="8" text-anchor="end" textLength="10.8" lengthAdjust="spacingAndGlyphs" fill="#000" style="stroke-width:0.22px;stroke:#000">0.1</text>
<text x="454.8" y="146.8" font-size="8" text-anchor="end" textLength="10.8" lengthAdjust="spacingAndGlyphs" fill="#000" style="stroke-width:0.22px;stroke:#000">0.1</text>
<ellipse cx="424.2" cy="145.3" rx="8" ry="4" transform="rotate(-45 424.2 145.3)" fill="#c4c4c4" stroke="none" stroke-width="1" opacity="0.6" filter="url(#b1)"/>
<ellipse cx="424.2" cy="145.3" rx="6.6" ry="3" transform="rotate(-45 424.2 145.3)" fill="none" stroke="#8a8a8a" stroke-width="0.7" opacity="1"/>
<ellipse cx="425.4" cy="144.20000000000002" rx="3.6" ry="1.7" transform="rotate(-45 425.4 144.20000000000002)" fill="none" stroke="#1a1a1a" stroke-width="1.2" opacity="1"/>
<ellipse cx="425.59999999999997" cy="144.0" rx="1.8" ry="0.6" transform="rotate(-45 425.59999999999997 144.0)" fill="none" stroke="#111" stroke-width="0.9" opacity="1"/>
<text x="473.79999999999995" y="153.0" font-size="3.2" fill="#bbb" class="t">10</text>
<text x="476.4" y="155.3" font-size="3.2" fill="#bbb" class="t">10</text>
<text x="473.79999999999995" y="143.0" font-size="3.2" fill="#bbb" class="t">10</text>
<text x="486.2" y="155.3" font-size="3.2" fill="#bbb" class="t">10</text>
<text x="473.79999999999995" y="133.0" font-size="3.2" fill="#bbb" class="t">10</text>
<text x="496.0" y="155.3" font-size="3.2" fill="#bbb" class="t">10</text>
<text x="473.79999999999995" y="123.0" font-size="3.2" fill="#bbb" class="t">10</text>
<text x="505.79999999999995" y="155.3" font-size="3.2" fill="#bbb" class="t">10</text>
<text x="473.79999999999995" y="113.0" font-size="3.2" fill="#bbb" class="t">10</text>
<text x="515.6" y="155.3" font-size="3.2" fill="#bbb" class="t">10</text>
<line x1="478.4" y1="111.7" x2="517.9" y2="111.7" stroke="#d4d4d4" stroke-width="0.8" />
<line x1="478.4" y1="111.7" x2="478.4" y2="151.5" stroke="#d0d0d0" stroke-width="0.8" />
<line x1="517.9" y1="111.7" x2="517.9" y2="151.5" stroke="#bdbdbd" stroke-width="0.8" />
<line x1="478.4" y1="151.5" x2="517.9" y2="151.5" stroke="#b5b5b5" stroke-width="0.8" />
<line x1="490.29999999999995" y1="111.7" x2="490.29999999999995" y2="151.5" stroke="#a0a0a0" stroke-width="0.8" />
<text x="479.6" y="122.5" font-size="8" text-anchor="start" textLength="10.8" lengthAdjust="spacingAndGlyphs" fill="#000" style="stroke-width:0.22px;stroke:#000">2.8</text>
<text x="516.6" y="122.5" font-size="8" text-anchor="end" textLength="14.4" lengthAdjust="spacingAndGlyphs" fill="#000" style="stroke-width:0.22px;stroke:#000">64.3</text>
<text x="516.6" y="146.8" font-size="8" text-anchor="end" textLength="14.4" lengthAdjust="spacingAndGlyphs" fill="#000" style="stroke-width:0.22px;stroke:#000">14.5</text>
<ellipse cx="362" cy="45.5" rx="11" ry="4.2" transform="rotate(-8 362 45.5)" fill="#b8b8b8" stroke="none" stroke-width="1" opacity="0.5" filter="url(#b1)"/>
<ellipse cx="362" cy="45.5" rx="8" ry="3" transform="rotate(-8 362 45.5)" fill="none" stroke="#9a9a9a" stroke-width="0.7" opacity="1"/>
<ellipse cx="360" cy="46" rx="5" ry="1.8" transform="rotate(-8 360 46)" fill="none" stroke="#888" stroke-width="0.7" opacity="1"/>
<circle cx="367.24" cy="40.91" r="0.45" fill="#8a8a8a"/>
<circle cx="360.78" cy="44.42" r="0.45" fill="#8a8a8a"/>
<circle cx="365.48" cy="47.73" r="0.45" fill="#8a8a8a"/>
<circle cx="369.46" cy="42.69" r="0.45" fill="#8a8a8a"/>
<circle cx="360.06" cy="47.86" r="0.45" fill="#8a8a8a"/>
<circle cx="348.94" cy="47.63" r="0.45" fill="#8a8a8a"/>
<circle cx="372.00" cy="41.61" r="0.45" fill="#8a8a8a"/>
<circle cx="353.58" cy="45.36" r="0.45" fill="#8a8a8a"/>
<circle cx="359.40" cy="45.23" r="0.45" fill="#8a8a8a"/>
<circle cx="353.60" cy="43.02" r="0.45" fill="#8a8a8a"/>
<circle cx="353.72" cy="45.79" r="0.45" fill="#8a8a8a"/>
<circle cx="369.76" cy="44.14" r="0.45" fill="#8a8a8a"/>
<circle cx="363.99" cy="40.65" r="0.45" fill="#8a8a8a"/>
<circle cx="350.94" cy="44.73" r="0.45" fill="#8a8a8a"/>
<circle cx="367.11" cy="46.50" r="0.45" fill="#8a8a8a"/>
<circle cx="372.01" cy="42.11" r="0.45" fill="#8a8a8a"/>
<circle cx="369.81" cy="45.52" r="0.45" fill="#8a8a8a"/>
<circle cx="356.15" cy="46.92" r="0.45" fill="#8a8a8a"/>
<circle cx="361.32" cy="46.03" r="0.45" fill="#8a8a8a"/>
<circle cx="368.44" cy="42.64" r="0.45" fill="#8a8a8a"/>
<ellipse cx="353.4" cy="49.3" rx="7" ry="3.3" transform="rotate(-58 353.4 49.3)" fill="#aaa" stroke="none" stroke-width="1" opacity="0.5" filter="url(#b1)"/>
<ellipse cx="353.4" cy="49.3" rx="5.4" ry="2.1" transform="rotate(-58 353.4 49.3)" fill="none" stroke="#111" stroke-width="1.3" opacity="1"/>
<ellipse cx="355.5" cy="46.5" rx="2.5" ry="1.0" transform="rotate(-20 355.5 46.5)" fill="none" stroke="#333" stroke-width="0.9" opacity="1"/>
<circle cx="374.58" cy="91.59" r="0.45" fill="#8a8a8a"/>
<circle cx="368.22" cy="87.09" r="0.45" fill="#8a8a8a"/>
<circle cx="367.46" cy="91.62" r="0.45" fill="#8a8a8a"/>
<circle cx="365.12" cy="85.75" r="0.45" fill="#8a8a8a"/>
<circle cx="361.61" cy="90.10" r="0.45" fill="#8a8a8a"/>
<circle cx="377.18" cy="88.11" r="0.45" fill="#8a8a8a"/>
<circle cx="361.56" cy="88.29" r="0.45" fill="#8a8a8a"/>
<circle cx="362.32" cy="88.82" r="0.45" fill="#8a8a8a"/>
<circle cx="361.94" cy="97.23" r="0.45" fill="#8a8a8a"/>
<circle cx="364.97" cy="91.62" r="0.45" fill="#8a8a8a"/>
<circle cx="357.62" cy="87.44" r="0.45" fill="#8a8a8a"/>
<circle cx="366.10" cy="97.66" r="0.45" fill="#8a8a8a"/>
<circle cx="367.90" cy="85.34" r="0.45" fill="#8a8a8a"/>
<circle cx="376.48" cy="91.96" r="0.45" fill="#8a8a8a"/>
<circle cx="372.27" cy="94.68" r="0.45" fill="#8a8a8a"/>
<circle cx="372.67" cy="92.88" r="0.45" fill="#8a8a8a"/>
<circle cx="372.14" cy="91.94" r="0.45" fill="#8a8a8a"/>
<circle cx="362.99" cy="91.71" r="0.45" fill="#8a8a8a"/>
<circle cx="365.25" cy="96.82" r="0.45" fill="#8a8a8a"/>
<circle cx="365.23" cy="95.48" r="0.45" fill="#8a8a8a"/>
<circle cx="361.15" cy="97.31" r="0.45" fill="#8a8a8a"/>
<circle cx="375.44" cy="87.37" r="0.45" fill="#8a8a8a"/>
<circle cx="367.48" cy="96.16" r="0.45" fill="#8a8a8a"/>
<circle cx="370.44" cy="89.08" r="0.45" fill="#8a8a8a"/>
<circle cx="355.30" cy="90.79" r="0.45" fill="#8a8a8a"/>
<circle cx="368.57" cy="84.93" r="0.45" fill="#8a8a8a"/>
<ellipse cx="366" cy="90" rx="13.125" ry="5.25" transform="rotate(-8 366 90)" fill="#bbb" stroke="none" stroke-width="1" opacity="0.5" filter="url(#b1)"/>
<ellipse cx="366" cy="90" rx="10.5" ry="4.2" transform="rotate(-8 366 90)" fill="none" stroke="#9a9a9a" stroke-width="0.7" opacity="1"/>
<ellipse cx="366" cy="90" rx="7.875" ry="3.1500000000000004" transform="rotate(-8 366 90)" fill="none" stroke="#555" stroke-width="0.9" opacity="1"/>
<ellipse cx="366" cy="90" rx="5.25" ry="2.1" transform="rotate(-8 366 90)" fill="none" stroke="#111" stroke-width="1.2" opacity="1"/>
<ellipse cx="366" cy="90" rx="2.625" ry="1.05" transform="rotate(-8 366 90)" fill="none" stroke="#111" stroke-width="1.0" opacity="1"/>
<ellipse cx="352.7" cy="96.7" rx="5.5" ry="3" transform="rotate(-38 352.7 96.7)" fill="#bbb" stroke="none" stroke-width="1" opacity="0.5" filter="url(#b1)"/>
<ellipse cx="352.7" cy="96.7" rx="4.8" ry="2.3" transform="rotate(-38 352.7 96.7)" fill="none" stroke="#999" stroke-width="0.7" opacity="1"/>
<ellipse cx="352.7" cy="96.7" rx="3.6" ry="1.4" transform="rotate(-38 352.7 96.7)" fill="none" stroke="#111" stroke-width="1.2" opacity="1"/>
<ellipse cx="357.5" cy="93" rx="3" ry="1.5" transform="rotate(-30 357.5 93)" fill="none" stroke="#aaa" stroke-width="0.7" opacity="1"/>
<circle cx="354.95" cy="141.44" r="0.45" fill="#8a8a8a"/>
<circle cx="359.28" cy="141.49" r="0.45" fill="#8a8a8a"/>
<circle cx="365.49" cy="131.36" r="0.45" fill="#8a8a8a"/>
<circle cx="354.58" cy="136.44" r="0.45" fill="#8a8a8a"/>
<circle cx="378.42" cy="135.24" r="0.45" fill="#8a8a8a"/>
<circle cx="373.45" cy="136.39" r="0.45" fill="#8a8a8a"/>
<circle cx="366.19" cy="132.61" r="0.45" fill="#8a8a8a"/>
<circle cx="368.45" cy="143.86" r="0.45" fill="#8a8a8a"/>
<circle cx="364.53" cy="142.62" r="0.45" fill="#8a8a8a"/>
<circle cx="366.92" cy="131.04" r="0.45" fill="#8a8a8a"/>
<circle cx="371.39" cy="138.71" r="0.45" fill="#8a8a8a"/>
<circle cx="374.35" cy="136.14" r="0.45" fill="#8a8a8a"/>
<circle cx="371.11" cy="143.47" r="0.45" fill="#8a8a8a"/>
<circle cx="371.10" cy="144.17" r="0.45" fill="#8a8a8a"/>
<circle cx="360.71" cy="144.41" r="0.45" fill="#8a8a8a"/>
<circle cx="362.72" cy="146.19" r="0.45" fill="#8a8a8a"/>
<circle cx="350.66" cy="136.99" r="0.45" fill="#8a8a8a"/>
<circle cx="377.36" cy="134.90" r="0.45" fill="#8a8a8a"/>
<circle cx="366.30" cy="135.04" r="0.45" fill="#8a8a8a"/>
<circle cx="362.85" cy="137.17" r="0.45" fill="#8a8a8a"/>
<circle cx="358.62" cy="141.32" r="0.45" fill="#8a8a8a"/>
<circle cx="366.98" cy="144.77" r="0.45" fill="#8a8a8a"/>
<circle cx="370.12" cy="144.50" r="0.45" fill="#8a8a8a"/>
<circle cx="367.24" cy="132.59" r="0.45" fill="#8a8a8a"/>
<circle cx="375.90" cy="137.39" r="0.45" fill="#8a8a8a"/>
<circle cx="368.73" cy="133.06" r="0.45" fill="#8a8a8a"/>
<circle cx="373.62" cy="137.94" r="0.45" fill="#8a8a8a"/>
<circle cx="354.82" cy="133.60" r="0.45" fill="#8a8a8a"/>
<ellipse cx="358" cy="141" rx="10" ry="5" transform="rotate(-30 358 141)" fill="#c8c8c8" stroke="none" stroke-width="1" opacity="0.5" filter="url(#b1)"/>
<ellipse cx="367" cy="136.5" rx="13.2" ry="5.52" transform="rotate(-5 367 136.5)" fill="#aaa" stroke="none" stroke-width="1" opacity="0.55" filter="url(#b1)"/>
<ellipse cx="367" cy="136.5" rx="11.0" ry="4.6" transform="rotate(-5 367 136.5)" fill="none" stroke="#9a9a9a" stroke-width="0.7" opacity="1"/>
<ellipse cx="367" cy="136.5" rx="8.25" ry="3.4499999999999997" transform="rotate(-5 367 136.5)" fill="none" stroke="#555" stroke-width="0.9" opacity="1"/>
<ellipse cx="367" cy="136.5" rx="5.5" ry="2.3" transform="rotate(-5 367 136.5)" fill="none" stroke="#111" stroke-width="1.2" opacity="1"/>
<ellipse cx="367" cy="136.5" rx="2.75" ry="1.15" transform="rotate(-5 367 136.5)" fill="none" stroke="#111" stroke-width="1.0" opacity="1"/>
<ellipse cx="368" cy="135.5" rx="6" ry="1.6" transform="rotate(-5 368 135.5)" fill="#111" stroke="none" stroke-width="1" opacity="0.8" filter="url(#b1)"/>
<ellipse cx="352.6" cy="145.4" rx="5.5" ry="3" transform="rotate(-40 352.6 145.4)" fill="none" stroke="#777" stroke-width="0.9" opacity="1"/>
<ellipse cx="352.6" cy="145.4" rx="3.2" ry="1.5" transform="rotate(-40 352.6 145.4)" fill="none" stroke="#999" stroke-width="0.8" opacity="1"/>
<ellipse cx="357.5" cy="142.5" rx="4" ry="1.8" transform="rotate(-30 357.5 142.5)" fill="none" stroke="#aaa" stroke-width="0.7" opacity="1"/>
<ellipse cx="492" cy="46.5" rx="10" ry="4" transform="rotate(-10 492 46.5)" fill="#b8b8b8" stroke="none" stroke-width="1" opacity="0.5" filter="url(#b1)"/>
<ellipse cx="492" cy="46.5" rx="7" ry="2.8" transform="rotate(-10 492 46.5)" fill="none" stroke="#9a9a9a" stroke-width="0.7" opacity="1"/>
<ellipse cx="491" cy="47" rx="4.5" ry="1.8" transform="rotate(-10 491 47)" fill="none" stroke="#888" stroke-width="0.7" opacity="1"/>
<circle cx="483.93" cy="42.41" r="0.45" fill="#8a8a8a"/>
<circle cx="487.82" cy="42.36" r="0.45" fill="#8a8a8a"/>
<circle cx="480.55" cy="46.64" r="0.45" fill="#8a8a8a"/>
<circle cx="496.69" cy="41.61" r="0.45" fill="#8a8a8a"/>
<circle cx="491.40" cy="43.21" r="0.45" fill="#8a8a8a"/>
<circle cx="499.41" cy="48.25" r="0.45" fill="#8a8a8a"/>
<circle cx="497.46" cy="41.12" r="0.45" fill="#8a8a8a"/>
<circle cx="486.77" cy="48.29" r="0.45" fill="#8a8a8a"/>
<circle cx="497.22" cy="49.22" r="0.45" fill="#8a8a8a"/>
<circle cx="493.86" cy="47.59" r="0.45" fill="#8a8a8a"/>
<circle cx="490.47" cy="42.17" r="0.45" fill="#8a8a8a"/>
<circle cx="489.52" cy="41.26" r="0.45" fill="#8a8a8a"/>
<circle cx="491.71" cy="43.44" r="0.45" fill="#8a8a8a"/>
<circle cx="500.81" cy="45.15" r="0.45" fill="#8a8a8a"/>
<circle cx="491.02" cy="44.95" r="0.45" fill="#8a8a8a"/>
<circle cx="493.19" cy="44.77" r="0.45" fill="#8a8a8a"/>
<circle cx="482.59" cy="45.11" r="0.45" fill="#8a8a8a"/>
<circle cx="480.54" cy="49.38" r="0.45" fill="#8a8a8a"/>
<ellipse cx="486.2" cy="51.6" rx="6.5" ry="3.2" transform="rotate(-40 486.2 51.6)" fill="#aaa" stroke="none" stroke-width="1" opacity="0.5" filter="url(#b1)"/>
<ellipse cx="486.2" cy="51.6" rx="5" ry="1.9" transform="rotate(-40 486.2 51.6)" fill="none" stroke="#111" stroke-width="1.3" opacity="1"/>
<ellipse cx="486.2" cy="51.6" rx="2.6" ry="0.7" transform="rotate(-40 486.2 51.6)" fill="none" stroke="#111" stroke-width="1.0" opacity="1"/>
<circle cx="496.16" cy="94.09" r="0.45" fill="#8a8a8a"/>
<circle cx="499.88" cy="95.42" r="0.45" fill="#8a8a8a"/>
<circle cx="480.33" cy="95.74" r="0.45" fill="#8a8a8a"/>
<circle cx="503.55" cy="90.02" r="0.45" fill="#8a8a8a"/>
<circle cx="490.03" cy="88.94" r="0.45" fill="#8a8a8a"/>
<circle cx="493.42" cy="92.58" r="0.45" fill="#8a8a8a"/>
<circle cx="488.61" cy="99.44" r="0.45" fill="#8a8a8a"/>
<circle cx="496.86" cy="85.16" r="0.45" fill="#8a8a8a"/>
<circle cx="497.53" cy="84.61" r="0.45" fill="#8a8a8a"/>
<circle cx="493.08" cy="86.04" r="0.45" fill="#8a8a8a"/>
<circle cx="483.54" cy="90.84" r="0.45" fill="#8a8a8a"/>
<circle cx="493.81" cy="93.99" r="0.45" fill="#8a8a8a"/>
<circle cx="500.66" cy="85.85" r="0.45" fill="#8a8a8a"/>
<circle cx="487.01" cy="88.84" r="0.45" fill="#8a8a8a"/>
<circle cx="487.64" cy="95.12" r="0.45" fill="#8a8a8a"/>
<circle cx="487.13" cy="90.94" r="0.45" fill="#8a8a8a"/>
<circle cx="499.69" cy="88.91" r="0.45" fill="#8a8a8a"/>
<circle cx="487.41" cy="93.39" r="0.45" fill="#8a8a8a"/>
<circle cx="494.88" cy="84.35" r="0.45" fill="#8a8a8a"/>
<circle cx="499.75" cy="94.32" r="0.45" fill="#8a8a8a"/>
<circle cx="489.11" cy="94.22" r="0.45" fill="#8a8a8a"/>
<circle cx="485.81" cy="98.06" r="0.45" fill="#8a8a8a"/>
<ellipse cx="491" cy="93" rx="13" ry="5.5" transform="rotate(-30 491 93)" fill="#bdbdbd" stroke="none" stroke-width="1" opacity="0.5" filter="url(#b1)"/>
<ellipse cx="494" cy="90.5" rx="9" ry="3.6" transform="rotate(-12 494 90.5)" fill="none" stroke="#999" stroke-width="0.7" opacity="1"/>
<ellipse cx="486.6" cy="96" rx="7.2" ry="2.8" transform="rotate(-58 486.6 96)" fill="none" stroke="#999" stroke-width="0.7" opacity="1"/>
<ellipse cx="486.6" cy="96" rx="6.2" ry="1.8" transform="rotate(-58 486.6 96)" fill="none" stroke="#111" stroke-width="1.3" opacity="1"/>
<ellipse cx="495.3" cy="90" rx="4.6" ry="2.0" transform="rotate(-12 495.3 90)" fill="none" stroke="#111" stroke-width="1.3" opacity="1"/>
<ellipse cx="495.3" cy="90" rx="2.2" ry="0.6" transform="rotate(-12 495.3 90)" fill="none" stroke="#222" stroke-width="0.9" opacity="1"/>
<circle cx="506.25" cy="142.09" r="0.45" fill="#8a8a8a"/>
<circle cx="494.74" cy="135.37" r="0.45" fill="#8a8a8a"/>
<circle cx="495.93" cy="143.26" r="0.45" fill="#8a8a8a"/>
<circle cx="492.93" cy="144.07" r="0.45" fill="#8a8a8a"/>
<circle cx="489.89" cy="145.24" r="0.45" fill="#8a8a8a"/>
<circle cx="502.91" cy="136.13" r="0.45" fill="#8a8a8a"/>
<circle cx="497.80" cy="141.59" r="0.45" fill="#8a8a8a"/>
<circle cx="486.57" cy="141.88" r="0.45" fill="#8a8a8a"/>
<circle cx="504.77" cy="133.30" r="0.45" fill="#8a8a8a"/>
<circle cx="506.11" cy="139.89" r="0.45" fill="#8a8a8a"/>
<circle cx="506.23" cy="134.14" r="0.45" fill="#8a8a8a"/>
<circle cx="505.36" cy="136.11" r="0.45" fill="#8a8a8a"/>
<circle cx="499.53" cy="134.83" r="0.45" fill="#8a8a8a"/>
<circle cx="510.42" cy="137.38" r="0.45" fill="#8a8a8a"/>
<circle cx="487.15" cy="143.42" r="0.45" fill="#8a8a8a"/>
<circle cx="493.07" cy="146.70" r="0.45" fill="#8a8a8a"/>
<circle cx="508.87" cy="136.50" r="0.45" fill="#8a8a8a"/>
<circle cx="501.18" cy="141.14" r="0.45" fill="#8a8a8a"/>
<circle cx="480.78" cy="139.97" r="0.45" fill="#8a8a8a"/>
<circle cx="498.53" cy="135.26" r="0.45" fill="#8a8a8a"/>
<circle cx="497.43" cy="131.99" r="0.45" fill="#8a8a8a"/>
<circle cx="507.98" cy="136.87" r="0.45" fill="#8a8a8a"/>
<circle cx="484.55" cy="144.10" r="0.45" fill="#8a8a8a"/>
<circle cx="489.11" cy="135.49" r="0.45" fill="#8a8a8a"/>
<circle cx="494.29" cy="133.44" r="0.45" fill="#8a8a8a"/>
<circle cx="488.14" cy="146.65" r="0.45" fill="#8a8a8a"/>
<circle cx="492.12" cy="146.44" r="0.45" fill="#8a8a8a"/>
<circle cx="499.12" cy="135.17" r="0.45" fill="#8a8a8a"/>
<ellipse cx="491" cy="141" rx="10" ry="5" transform="rotate(-30 491 141)" fill="#c0c0c0" stroke="none" stroke-width="1" opacity="0.5" filter="url(#b1)"/>
<ellipse cx="500.5" cy="137.5" rx="13.2" ry="5.52" transform="rotate(-5 500.5 137.5)" fill="#aaa" stroke="none" stroke-width="1" opacity="0.55" filter="url(#b1)"/>
<ellipse cx="500.5" cy="137.5" rx="11.0" ry="4.6" transform="rotate(-5 500.5 137.5)" fill="none" stroke="#9a9a9a" stroke-width="0.7" opacity="1"/>
<ellipse cx="500.5" cy="137.5" rx="8.25" ry="3.4499999999999997" transform="rotate(-5 500.5 137.5)" fill="none" stroke="#555" stroke-width="0.9" opacity="1"/>
<ellipse cx="500.5" cy="137.5" rx="5.5" ry="2.3" transform="rotate(-5 500.5 137.5)" fill="none" stroke="#111" stroke-width="1.2" opacity="1"/>
<ellipse cx="500.5" cy="137.5" rx="2.75" ry="1.15" transform="rotate(-5 500.5 137.5)" fill="none" stroke="#111" stroke-width="1.0" opacity="1"/>
<ellipse cx="501.5" cy="136.5" rx="6" ry="1.6" transform="rotate(-5 501.5 136.5)" fill="#111" stroke="none" stroke-width="1" opacity="0.8" filter="url(#b1)"/>
<ellipse cx="485.3" cy="144.8" rx="5.5" ry="3" transform="rotate(-40 485.3 144.8)" fill="none" stroke="#666" stroke-width="1" opacity="1"/>
<ellipse cx="485.3" cy="144.8" rx="3.2" ry="1.5" transform="rotate(-40 485.3 144.8)" fill="none" stroke="#888" stroke-width="0.8" opacity="1"/>
<ellipse cx="490.5" cy="142" rx="4" ry="1.8" transform="rotate(-30 490.5 142)" fill="none" stroke="#aaa" stroke-width="0.7" opacity="1"/>
<circle cx="293.20" cy="50.19" r="0.45" fill="#999"/>
<circle cx="292.00" cy="48.87" r="0.45" fill="#999"/>
<circle cx="297.49" cy="50.37" r="0.45" fill="#999"/>
<circle cx="292.38" cy="47.98" r="0.45" fill="#999"/>
<circle cx="292.20" cy="50.05" r="0.45" fill="#999"/>
<circle cx="296.64" cy="48.73" r="0.45" fill="#999"/>
<circle cx="290.77" cy="50.98" r="0.45" fill="#999"/>
<circle cx="294.24" cy="49.47" r="0.45" fill="#999"/>
<circle cx="426.08" cy="52.31" r="0.45" fill="#999"/>
<circle cx="424.79" cy="47.77" r="0.45" fill="#999"/>
<circle cx="425.24" cy="54.87" r="0.45" fill="#999"/>
<circle cx="427.59" cy="50.16" r="0.45" fill="#999"/>
<circle cx="426.81" cy="51.62" r="0.45" fill="#999"/>
<circle cx="422.05" cy="53.87" r="0.45" fill="#999"/>
<circle cx="422.85" cy="55.87" r="0.45" fill="#999"/>
<circle cx="423.48" cy="52.04" r="0.45" fill="#999"/>
<circle cx="292.00" cy="100.49" r="0.45" fill="#999"/>
<circle cx="296.54" cy="97.81" r="0.45" fill="#999"/>
<circle cx="288.81" cy="98.54" r="0.45" fill="#999"/>
<circle cx="288.45" cy="98.84" r="0.45" fill="#999"/>
<circle cx="292.89" cy="93.32" r="0.45" fill="#999"/>
<circle cx="291.65" cy="95.52" r="0.45" fill="#999"/>
<circle cx="290.87" cy="98.76" r="0.45" fill="#999"/>
<circle cx="296.48" cy="95.15" r="0.45" fill="#999"/>
<circle cx="425.47" cy="93.46" r="0.45" fill="#999"/>
<circle cx="429.65" cy="95.21" r="0.45" fill="#999"/>
<circle cx="422.28" cy="98.69" r="0.45" fill="#999"/>
<circle cx="425.93" cy="94.39" r="0.45" fill="#999"/>
<circle cx="421.86" cy="97.87" r="0.45" fill="#999"/>
<circle cx="426.36" cy="93.31" r="0.45" fill="#999"/>
<circle cx="429.07" cy="93.86" r="0.45" fill="#999"/>
<circle cx="422.87" cy="99.43" r="0.45" fill="#999"/>
<circle cx="291.71" cy="145.76" r="0.45" fill="#999"/>
<circle cx="291.99" cy="145.10" r="0.45" fill="#999"/>
<circle cx="293.12" cy="146.36" r="0.45" fill="#999"/>
<circle cx="291.72" cy="147.51" r="0.45" fill="#999"/>
<circle cx="289.58" cy="144.07" r="0.45" fill="#999"/>
<circle cx="293.99" cy="141.56" r="0.45" fill="#999"/>
<circle cx="293.13" cy="149.02" r="0.45" fill="#999"/>
<circle cx="296.56" cy="143.04" r="0.45" fill="#999"/>
<circle cx="423.61" cy="148.32" r="0.45" fill="#999"/>
<circle cx="422.29" cy="144.40" r="0.45" fill="#999"/>
<circle cx="425.28" cy="144.76" r="0.45" fill="#999"/>
<circle cx="424.99" cy="144.64" r="0.45" fill="#999"/>
<circle cx="422.01" cy="145.31" r="0.45" fill="#999"/>
<circle cx="426.04" cy="142.08" r="0.45" fill="#999"/>
<circle cx="428.51" cy="144.84" r="0.45" fill="#999"/>
<circle cx="421.66" cy="145.47" r="0.45" fill="#999"/>
<line x1="274.6" y1="158.6" x2="274.6" y2="131" stroke="#000" stroke-width="1.6" />
<path d="M272.20000000000005 132 L274.6 126.8 L277.0 132 Z" fill="#000"/>
<line x1="273.8" y1="157.9" x2="308.5" y2="157.9" stroke="#000" stroke-width="1.6" />
<path d="M307.6 155.3 L312.2 157.9 L307.6 160.5 Z" fill="#000"/>
<text x="0" y="0" font-size="8.8" text-anchor="middle" fill="#111" style="stroke-width:0.3px" transform="translate(275.6 110.2) rotate(-90)" textLength="19.8" lengthAdjust="spacingAndGlyphs">IgG2</text>
<text x="302.85" y="170.8" font-size="9.7" text-anchor="middle" textLength="19.2" lengthAdjust="spacingAndGlyphs" fill="#111" >IgG1</text>
<line x1="335.40000000000003" y1="158.6" x2="335.40000000000003" y2="131" stroke="#000" stroke-width="1.6" />
<path d="M333.00000000000006 132 L335.40000000000003 126.8 L337.8 132 Z" fill="#000"/>
<line x1="334.6" y1="157.9" x2="369.3" y2="157.9" stroke="#000" stroke-width="1.6" />
<path d="M368.40000000000003 155.3 L373.0 157.9 L368.40000000000003 160.5 Z" fill="#000"/>
<text x="0" y="0" font-size="8.8" text-anchor="middle" fill="#111" style="stroke-width:0.3px" transform="translate(338.9 108.2) rotate(-90)" textLength="25.7" lengthAdjust="spacingAndGlyphs">EPOR</text>
<text x="362.7" y="170.8" font-size="9.7" text-anchor="middle" textLength="19.2" lengthAdjust="spacingAndGlyphs" fill="#111" >GPA</text>
<line x1="407.0" y1="158.6" x2="407.0" y2="131" stroke="#000" stroke-width="1.6" />
<path d="M404.6 132 L407.0 126.8 L409.4 132 Z" fill="#000"/>
<line x1="406.2" y1="157.9" x2="440.9" y2="157.9" stroke="#000" stroke-width="1.6" />
<path d="M440.0 155.3 L444.59999999999997 157.9 L440.0 160.5 Z" fill="#000"/>
<text x="0" y="0" font-size="8.8" text-anchor="middle" fill="#111" style="stroke-width:0.3px" transform="translate(409.3 109.8) rotate(-90)" textLength="19.8" lengthAdjust="spacingAndGlyphs">IgG2</text>
<text x="436.9" y="170.8" font-size="9.7" text-anchor="middle" textLength="19.2" lengthAdjust="spacingAndGlyphs" fill="#111" >IgG1</text>
<line x1="468.0" y1="158.6" x2="468.0" y2="131" stroke="#000" stroke-width="1.6" />
<path d="M465.6 132 L468.0 126.8 L470.4 132 Z" fill="#000"/>
<line x1="467.2" y1="157.9" x2="501.9" y2="157.9" stroke="#000" stroke-width="1.6" />
<path d="M501.0 155.3 L505.59999999999997 157.9 L501.0 160.5 Z" fill="#000"/>
<text x="0" y="0" font-size="8.8" text-anchor="middle" fill="#111" style="stroke-width:0.3px" transform="translate(471.4 107.8) rotate(-90)" textLength="25.7" lengthAdjust="spacingAndGlyphs">EPOR</text>
<text x="495.4" y="170.8" font-size="9.7" text-anchor="middle" textLength="19.2" lengthAdjust="spacingAndGlyphs" fill="#111" >GPA</text>
<text x="251.8" y="216.4" font-size="14" text-anchor="start" font-weight="bold" textLength="9" lengthAdjust="spacingAndGlyphs" fill="#111" >D</text>
<line x1="323.4" y1="214.4" x2="323.4" y2="352.9" stroke="#000" stroke-width="1.2" />
<line x1="323.4" y1="214.9" x2="325.6" y2="214.9" stroke="#000" stroke-width="1" />
<line x1="322.8" y1="352.3" x2="491.4" y2="352.3" stroke="#000" stroke-width="1.2" />
<text x="316.6" y="219.5" font-size="10" text-anchor="end" font-weight="bold" textLength="17.6" lengthAdjust="spacingAndGlyphs" fill="#111" >100</text>
<text x="316.6" y="246.5" font-size="10" text-anchor="end" font-weight="bold" textLength="11.3" lengthAdjust="spacingAndGlyphs" fill="#111" >90</text>
<text x="316.6" y="274" font-size="10" text-anchor="end" font-weight="bold" textLength="11.3" lengthAdjust="spacingAndGlyphs" fill="#111" >80</text>
<text x="316.6" y="301.7" font-size="10" text-anchor="end" font-weight="bold" textLength="11.3" lengthAdjust="spacingAndGlyphs" fill="#111" >70</text>
<text x="316.6" y="329.3" font-size="10" text-anchor="end" font-weight="bold" textLength="11.3" lengthAdjust="spacingAndGlyphs" fill="#111" >60</text>
<text x="316.6" y="357" font-size="10" text-anchor="end" font-weight="bold" textLength="11.3" lengthAdjust="spacingAndGlyphs" fill="#111" >50</text>
<text x="0" y="0" font-size="10" text-anchor="middle" fill="#111" transform="translate(295.3 279.5) rotate(-90)" style="stroke-width:0.2px" textLength="76" lengthAdjust="spacingAndGlyphs">EPOR+ cells (%)</text>
<rect x="332.8" y="302.2" width="19.599999999999966" height="50.10000000000002" fill="#fff" stroke="#111" stroke-width="1" />
<rect x="352.4" y="345.0" width="18.900000000000034" height="7.300000000000011" fill="#111" stroke="none" stroke-width="1" />
<line x1="342.35" y1="301.7" x2="342.35" y2="296.5" stroke="#000" stroke-width="1" />
<line x1="339.35" y1="296.5" x2="345.35" y2="296.5" stroke="#000" stroke-width="1" />
<line x1="361.85" y1="345.0" x2="361.85" y2="328.2" stroke="#555" stroke-width="1" />
<line x1="358.85" y1="328.2" x2="364.85" y2="328.2" stroke="#000" stroke-width="1" />
<rect x="390.2" y="249.5" width="19.0" height="102.80000000000001" fill="#fff" stroke="#111" stroke-width="1" />
<rect x="409.2" y="268.6" width="18.80000000000001" height="83.69999999999999" fill="#111" stroke="none" stroke-width="1" />
<line x1="399.45" y1="249.0" x2="399.45" y2="242.8" stroke="#000" stroke-width="1" />
<line x1="396.45" y1="242.8" x2="402.45" y2="242.8" stroke="#000" stroke-width="1" />
<line x1="418.6" y1="268.6" x2="418.6" y2="255.0" stroke="#555" stroke-width="1" />
<line x1="415.6" y1="255.0" x2="421.6" y2="255.0" stroke="#000" stroke-width="1" />
<rect x="447.8" y="252.4" width="17.69999999999999" height="99.9" fill="#fff" stroke="#111" stroke-width="1" />
<rect x="465.5" y="266.5" width="20.100000000000023" height="85.80000000000001" fill="#111" stroke="none" stroke-width="1" />
<line x1="456.4" y1="251.9" x2="456.4" y2="246.1" stroke="#000" stroke-width="1" />
<line x1="453.4" y1="246.1" x2="459.4" y2="246.1" stroke="#000" stroke-width="1" />
<line x1="475.55" y1="266.5" x2="475.55" y2="259.6" stroke="#555" stroke-width="1" />
<line x1="472.55" y1="259.6" x2="478.55" y2="259.6" stroke="#000" stroke-width="1" />
<line x1="344.0" y1="279.0" x2="361.0" y2="279.0" stroke="#3a3a3a" stroke-width="1.1" />
<line x1="344.5" y1="279.0" x2="344.5" y2="290.3" stroke="#777" stroke-width="1" />
<line x1="360.5" y1="279.0" x2="360.5" y2="315.2" stroke="#666" stroke-width="1" />
<circle cx="353.2" cy="273.8" r="1.1" fill="#111"/>
<line x1="401.0" y1="223.5" x2="418.0" y2="223.5" stroke="#3a3a3a" stroke-width="1.1" />
<line x1="401.5" y1="223.5" x2="401.5" y2="234.7" stroke="#777" stroke-width="1" />
<line x1="417.5" y1="223.5" x2="417.5" y2="251.4" stroke="#666" stroke-width="1" />
<circle cx="409.7" cy="218.6" r="1.1" fill="#111"/>
<line x1="458.0" y1="223.5" x2="475.0" y2="223.5" stroke="#3a3a3a" stroke-width="1.1" />
<line x1="458.5" y1="223.5" x2="458.5" y2="234.0" stroke="#777" stroke-width="1" />
<line x1="474.5" y1="223.5" x2="474.5" y2="251.0" stroke="#666" stroke-width="1" />
<circle cx="466.5" cy="218.6" r="1.1" fill="#111"/>
<text x="340.8" y="366.2" font-size="10.3" text-anchor="start" textLength="21.3" lengthAdjust="spacingAndGlyphs" fill="#111" style="stroke-width:0.2px">Day5</text>
<text x="397.8" y="366.2" font-size="10.3" text-anchor="start" textLength="21.3" lengthAdjust="spacingAndGlyphs" fill="#111" style="stroke-width:0.2px">Day6</text>
<text x="454.6" y="366.2" font-size="10.3" text-anchor="start" textLength="21.3" lengthAdjust="spacingAndGlyphs" fill="#111" style="stroke-width:0.2px">Day7</text>
<text x="384" y="381.2" font-size="11.5" text-anchor="start" textLength="53.2" lengthAdjust="spacingAndGlyphs" fill="#111" style="stroke-width:0.2px">GPA+ cells</text>
</svg>
</body></html>
